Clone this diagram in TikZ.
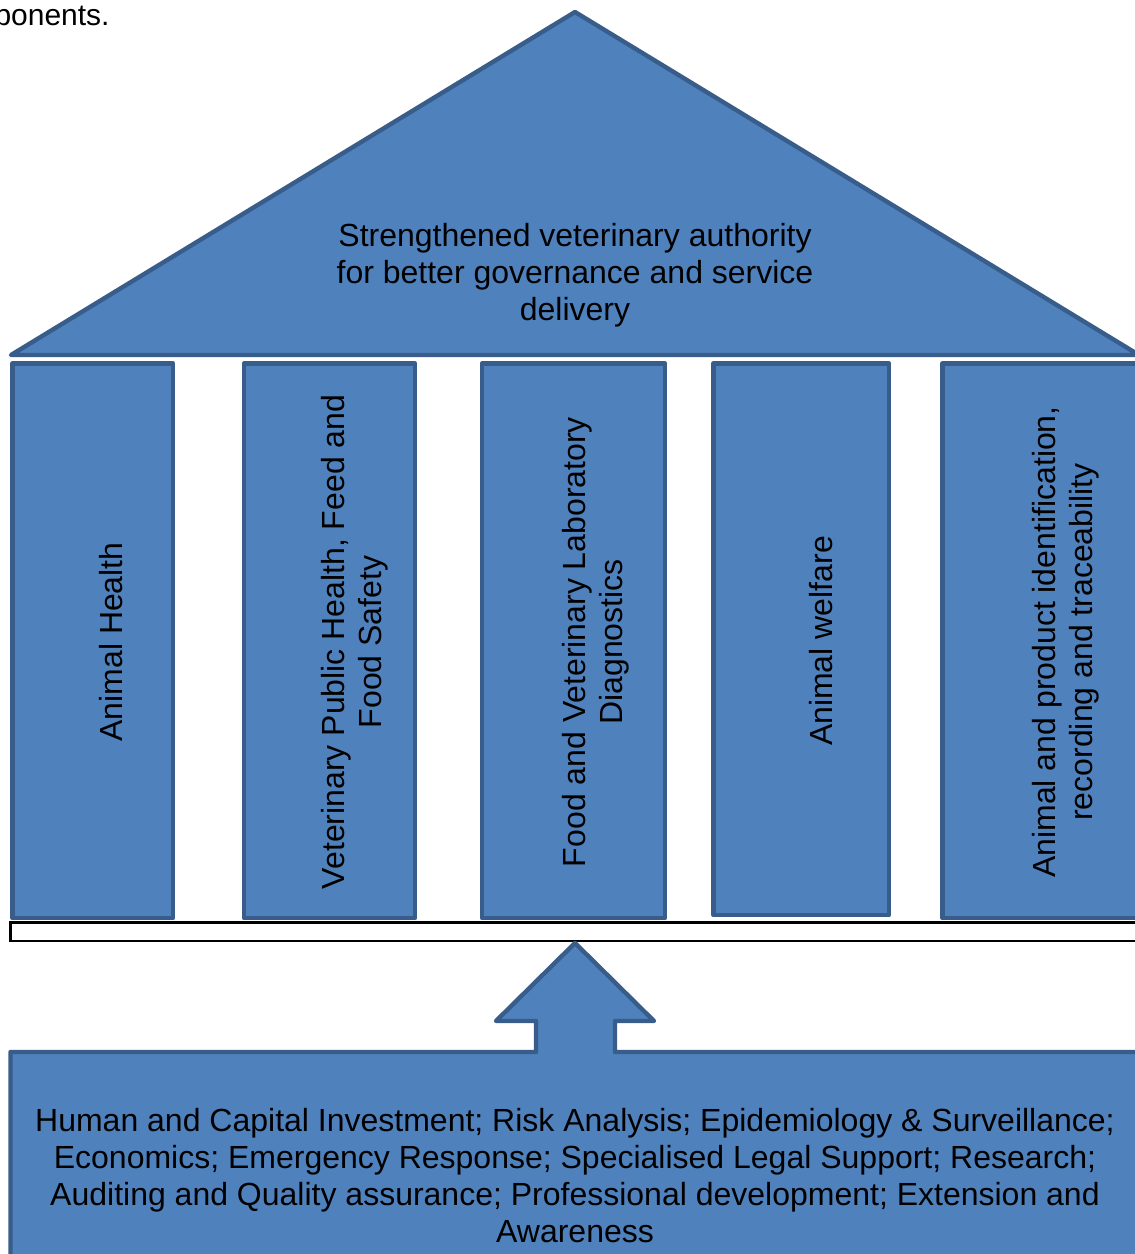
\documentclass[tikz,border=0pt]{standalone}
\usepackage{fontspec}
\setmainfont{Liberation Sans}
\definecolor{boxfill}{HTML}{4F81BD}
\definecolor{boxline}{HTML}{385D8A}
\begin{document}
\begin{tikzpicture}[x=0.5pt,y=-0.5pt,
  blueshape/.style={fill=boxfill,draw=boxline,line width=2.2pt,line join=round},
  pillar/.style={blueshape},
  lbl/.style={align=center,inner sep=0pt,font=\fontsize{16}{18.5}\selectfont},
  vlbl/.style={lbl,rotate=90}]
\useasboundingbox (0,0) rectangle (1135,1254);
\clip (0,0) rectangle (1135,1254);
% caption fragment
\node[inner sep=0pt,font=\fontsize{15}{18}\selectfont,anchor=base east] (cap) at (110,25) {ponents.};
% roof
\draw[blueshape] (11,355) -- (575,12) -- (1139,355) -- cycle;
\node[lbl] (roof) at (575,275) {Strengthened veterinary authority\\for better governance and service\\delivery};
% pillars
\draw[pillar] (12.5,363.5) rectangle (173,918);
\draw[pillar] (244,363.5) rectangle (415,918);
\draw[pillar] (482,363.5) rectangle (665,918);
\draw[pillar] (713.5,363.5) rectangle (889,915);
\draw[pillar] (942.5,363.5) rectangle (1150,918);
\node[vlbl] (p1) at (111,642) {Animal Health};
\node[vlbl] (p2) at (354.5,642) {Veterinary Public Health, Feed and\\Food Safety};
\node[vlbl] (p3) at (595.5,642) {Food and Veterinary Laboratory\\Diagnostics};
\node[vlbl] (p4) at (821,641) {Animal welfare};
\node[vlbl] (p5) at (1066,642) {Animal and product identification,\\recording and traceability};
% base bar
\draw[fill=white,draw=black,line width=1.1pt] (10.5,922.5) rectangle (1150,941);
% foundation with arrow
\draw[blueshape] (10.5,1052) -- (536,1052) -- (536,1021) -- (496,1021) -- (575,943)
  -- (654,1021) -- (615,1021) -- (615,1052) -- (1150,1052) -- (1150,1270) -- (10.5,1270) -- cycle;
\node[lbl] (found) at (575,1175.5) {Human and Capital Investment; Risk Analysis; Epidemiology \& Surveillance;\\Economics; Emergency Response; Specialised Legal Support; Research;\\Auditing and Quality assurance; Professional development; Extension and\\Awareness};
\end{tikzpicture}
\end{document}
